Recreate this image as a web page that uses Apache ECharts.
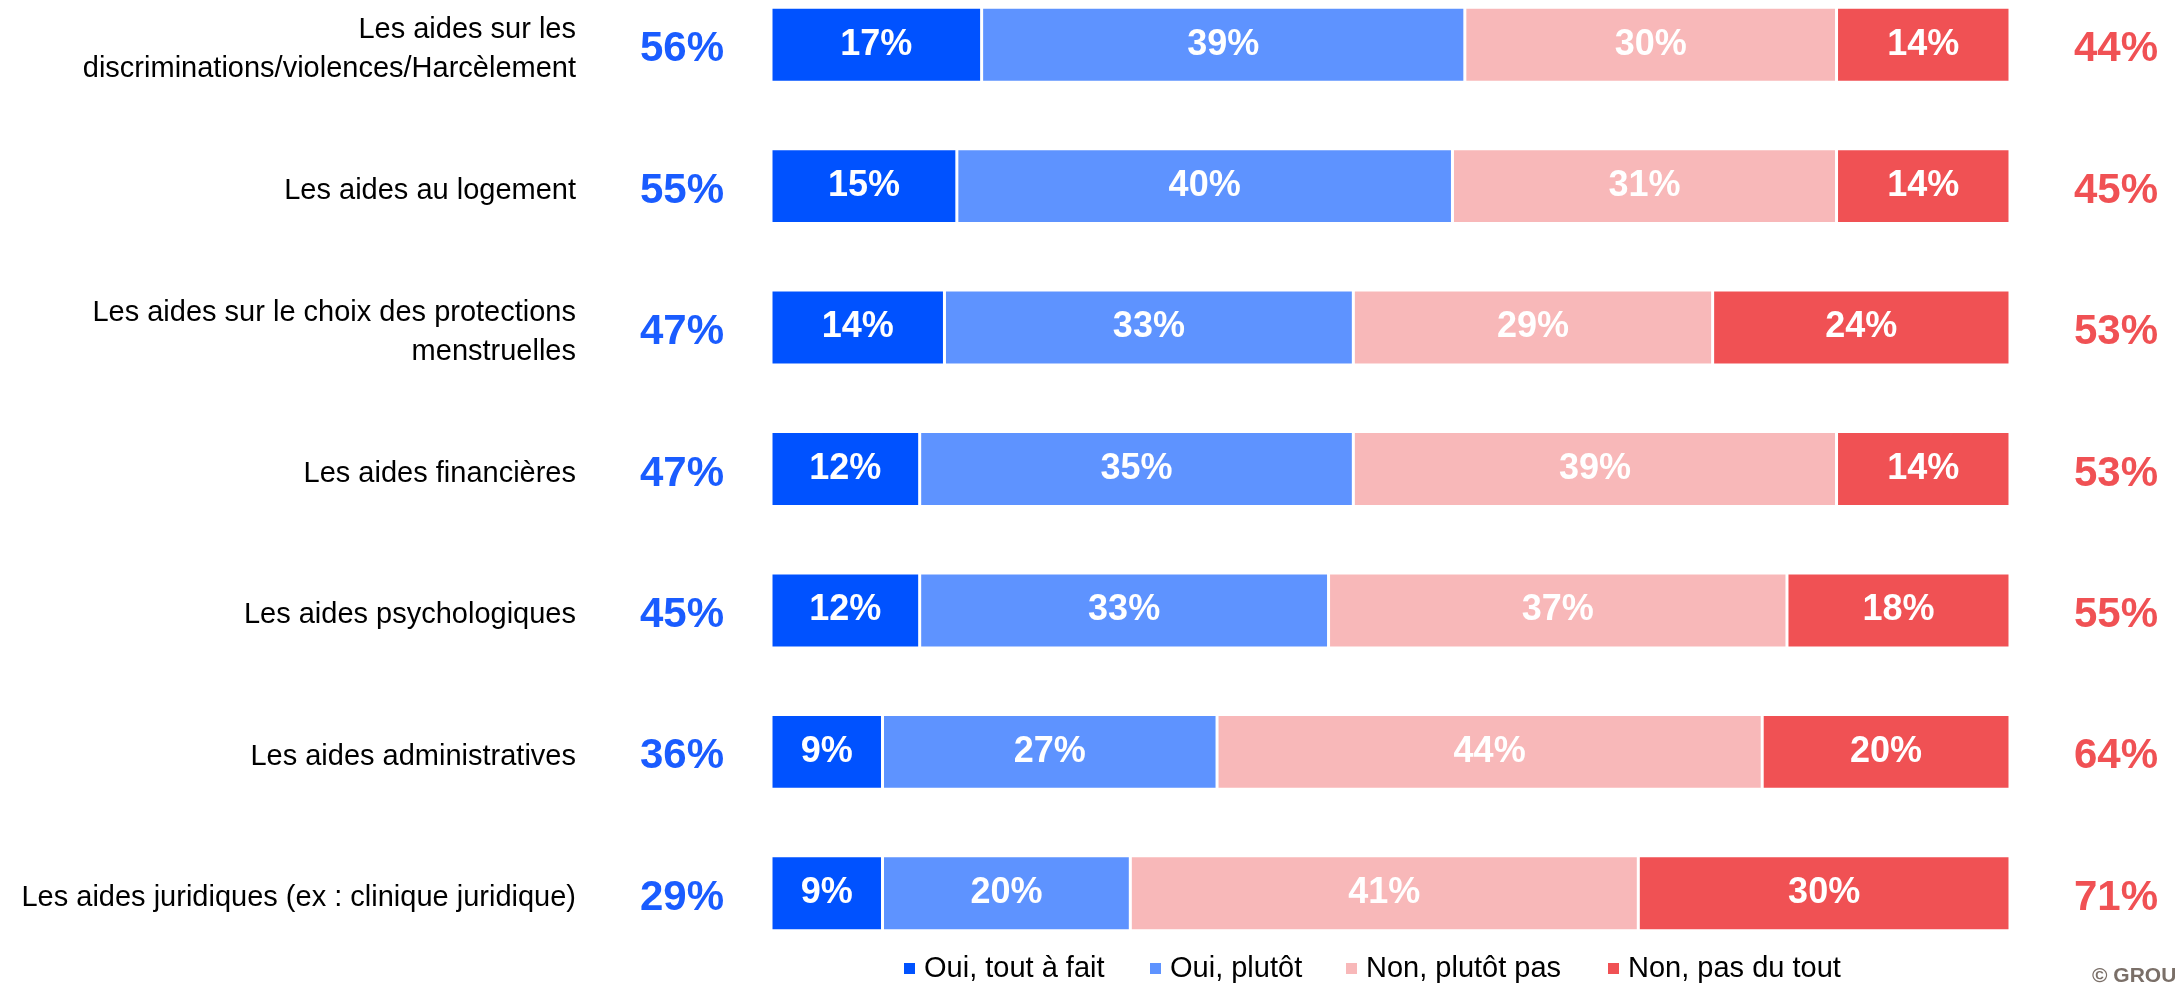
<!DOCTYPE html>
<html>
<head>
<meta charset="utf-8">
<script src="https://cdn.jsdelivr.net/npm/echarts@6/dist/echarts.min.js"></script>
<style>
  html, body { margin: 0; padding: 0; background: #ffffff; }
  #chart { width: 2175px; height: 983px; }
</style>
</head>
<body>
<div id="chart"></div>
<script>
// Survey items (top to bottom)
const categories = [
  'Les aides sur les\ndiscriminations/violences/Harcèlement',
  'Les aides au logement',
  'Les aides sur le choix des protections\nmenstruelles',
  'Les aides financières',
  'Les aides psychologiques',
  'Les aides administratives',
  'Les aides juridiques (ex : clinique juridique)'
];

// Answer shares, in percent
const ouiToutAFait = [17, 15, 14, 12, 12, 9, 9];
const ouiPlutot    = [39, 40, 33, 35, 33, 27, 20];
const nonPlutotPas = [30, 31, 29, 39, 37, 44, 41];
const nonPasDuTout = [14, 14, 24, 14, 18, 20, 30];

// Totals shown beside the bars
const totalOui = [56, 55, 47, 47, 45, 36, 29];
const totalNon = [44, 45, 53, 53, 55, 64, 71];

const seriesNames = ['Oui, tout à fait', 'Oui, plutôt', 'Non, plutôt pas', 'Non, pas du tout'];
const seriesValues = [ouiToutAFait, ouiPlutot, nonPlutotPas, nonPasDuTout];
const seriesColors = ['#0052FF', '#5E93FF', '#F8B8B9', '#F05154'];

// Left edge of each legend entry
const legendLeft = [902, 1148, 1344, 1606];

const FONT = '"Liberation Sans", Arial, sans-serif';

const chart = echarts.init(document.getElementById('chart'), null, { renderer: 'canvas' });

const hiddenAxis = { axisLine: { show: false }, axisTick: { show: false } };

chart.setOption({
  backgroundColor: '#ffffff',
  animation: false,
  textStyle: { fontFamily: FONT },
  grid: [
    // bars
    { left: 771, right: 165, top: -26, bottom: 19, containLabel: false, outerBoundsMode: 'none' },
    // row labels and totals, set a few pixels lower than the bars
    { left: 771, right: 165, top: -21, bottom: 14, containLabel: false, outerBoundsMode: 'none' }
  ],
  legend: seriesNames.map((name, i) => ({
    data: [name],
    left: legendLeft[i],
    top: 954,
    padding: 0,
    icon: 'rect',
    itemWidth: 13,
    itemHeight: 13,
    selectedMode: false,
    textStyle: { fontFamily: FONT, fontSize: 29, color: '#000000', padding: [0, 0, 0, 3] }
  })),
  xAxis: [
    { type: 'value', gridIndex: 0, min: 0, max: 100, show: false },
    { type: 'value', gridIndex: 1, min: 0, max: 100, show: false }
  ],
  yAxis: [
    {
      type: 'category',
      gridIndex: 0,
      data: categories,
      inverse: true,
      show: false
    },
    Object.assign({
      type: 'category',
      gridIndex: 1,
      data: categories,
      inverse: true,
      position: 'left',
      axisLabel: {
        margin: 195,
        fontFamily: FONT,
        fontSize: 29,
        lineHeight: 39,
        color: '#000000',
        align: 'right'
      }
    }, hiddenAxis),
    Object.assign({
      type: 'category',
      gridIndex: 1,
      data: totalOui.map(v => v + '%'),
      inverse: true,
      position: 'left',
      axisLabel: {
        margin: 47,
        fontFamily: FONT,
        fontSize: 42,
        fontWeight: 'bold',
        color: '#1A5CFF'
      }
    }, hiddenAxis),
    Object.assign({
      type: 'category',
      gridIndex: 1,
      data: totalNon.map(v => v + '%'),
      inverse: true,
      position: 'right',
      axisLabel: {
        margin: 64,
        fontFamily: FONT,
        fontSize: 42,
        fontWeight: 'bold',
        color: '#F05154'
      }
    }, hiddenAxis)
  ],
  series: seriesNames.map((name, i) => ({
    name: name,
    type: 'bar',
    stack: 'total',
    xAxisIndex: 0,
    yAxisIndex: 0,
    data: seriesValues[i],
    barCategoryGap: '47%',
    itemStyle: { color: seriesColors[i], borderColor: '#ffffff', borderWidth: 1.5 },
    label: {
      show: true,
      position: 'inside',
      formatter: p => p.value + '%',
      fontFamily: FONT,
      fontSize: 36,
      fontWeight: 'bold',
      color: '#ffffff'
    }
  })),
  graphic: [
    {
      type: 'text',
      left: 2092,
      top: 966,
      style: {
        text: '© GROUPE',
        fontFamily: FONT,
        fontSize: 21,
        fontWeight: 'bold',
        fill: '#7A6F68'
      }
    }
  ]
});
</script>
</body>
</html>
